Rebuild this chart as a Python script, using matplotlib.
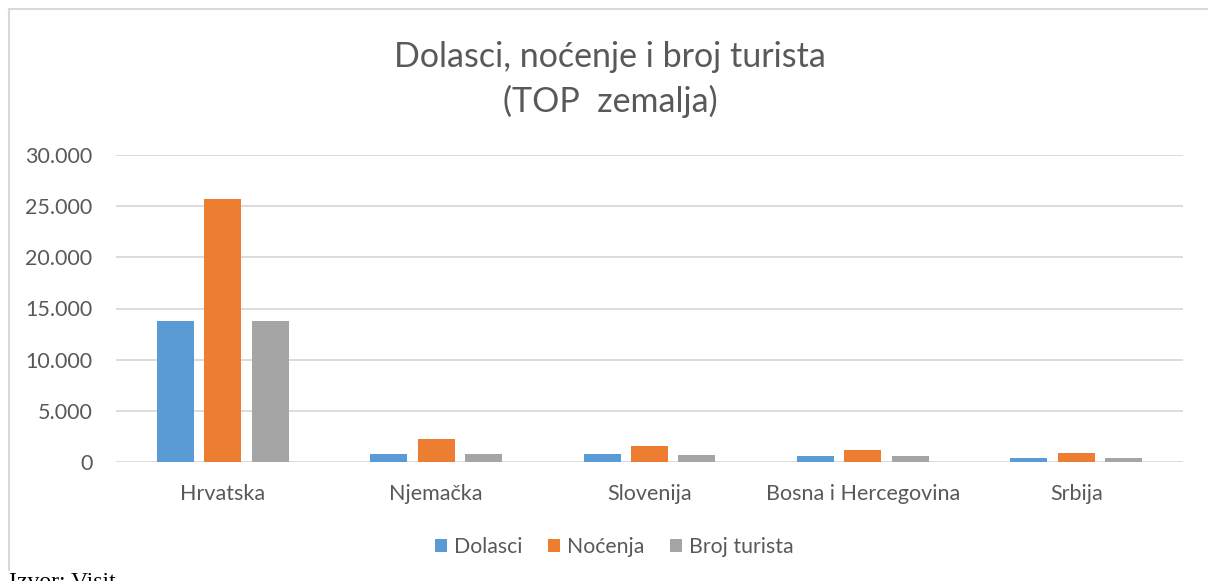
import matplotlib
matplotlib.use("Agg")
import matplotlib.pyplot as plt
import matplotlib.ticker as mt
from matplotlib.lines import Line2D
import numpy as np

plt.rcParams['font.family'] = ['Lato', 'DejaVu Sans']

countries = ['Hrvatska', 'Njemačka', 'Slovenija', 'Bosna i Hercegovina', 'Srbija']
dolasci = [13750, 750, 750, 580, 400]
nocenja = [25700, 2250, 1530, 1170, 870]
broj_turista = [13750, 750, 730, 580, 400]

series = [('Dolasci', dolasci, '#5b9bd5'),
          ('Noćenja', nocenja, '#ed7d31'),
          ('Broj turista', broj_turista, '#a5a5a5')]

W, H = 1208, 581
fig = plt.figure(figsize=(W / 100, H / 100), dpi=100)
ax = fig.add_axes([116 / W, 1 - 462 / H, (1183 - 116) / W, (462 - 155) / H])

x = np.arange(len(countries))
bw = 0.174
step = 0.222
for i, (name, vals, col) in enumerate(series):
    ax.bar(x + (i - 1) * step, vals, width=bw, color=col, label=name, zorder=3)

ax.set_xlim(-0.5, len(countries) - 0.5)
ax.set_ylim(0, 30000)
ax.yaxis.set_major_locator(mt.MultipleLocator(5000))
ax.yaxis.set_major_formatter(mt.FuncFormatter(lambda v, p: f'{int(v):,}'.replace(',', '.')))
ax.grid(axis='y', color='#d9d9d9', linewidth=1.3, zorder=0)
for s in ax.spines.values():
    s.set_visible(False)
ax.tick_params(length=0, labelsize=15.5, colors='#595959')
ax.tick_params(axis='y', pad=17)
ax.tick_params(axis='x', pad=16)
ax.set_xticks(x)
ax.set_xticklabels(countries)

fig.text(0.505, 1 - 57 / H, 'Dolasci, noćenje i broj turista', ha='center', va='center',
         fontsize=24.5, color='#595959')
fig.text(0.505, 1 - 101 / H, '(TOP  zemalja)', ha='center', va='center',
         fontsize=24.5, color='#595959')

leg = fig.legend(loc='center', bbox_to_anchor=(614 / W, 1 - 547 / H), ncol=3, frameon=False,
                 fontsize=15.3, handlelength=0.6, handleheight=0.6, handletextpad=0.3,
                 columnspacing=1.2)
for t in leg.get_texts():
    t.set_color('#595959')

# chart frame
fig.add_artist(Line2D([9 / W, 1.0], [1 - 9 / H, 1 - 9 / H], color='#d9d9d9', linewidth=1.5))
fig.add_artist(Line2D([9 / W, 9 / W], [1 - 9 / H, 1 - 570 / H], color='#d9d9d9', linewidth=1.5))

fig.text(9 / W, -12 / H, 'Izvor: Visit', fontsize=17, family='Liberation Serif', color='black',
         ha='left', va='bottom')

fig.savefig('out.png', dpi=100)
